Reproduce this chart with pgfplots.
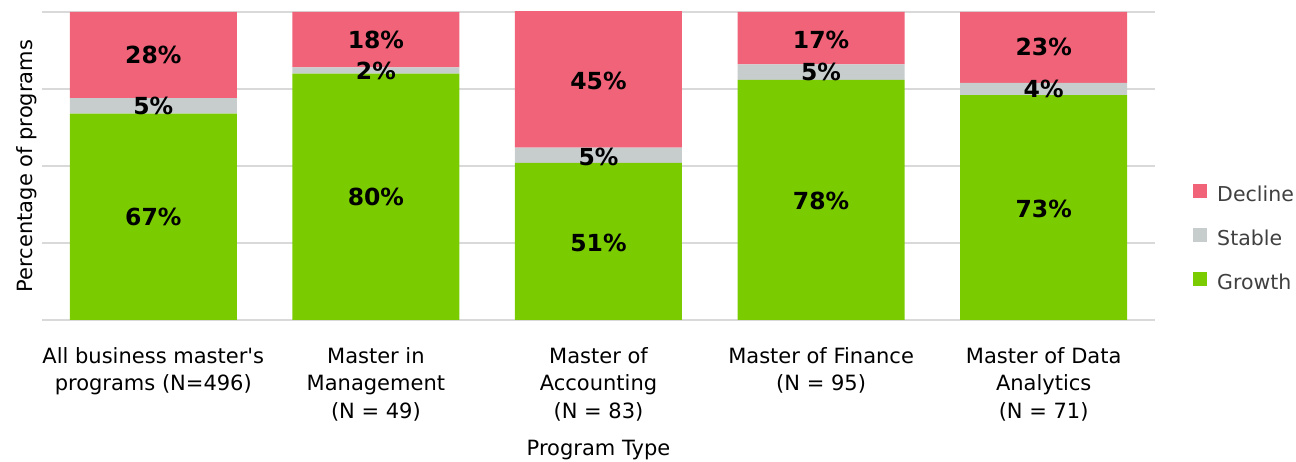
\documentclass[border=0pt]{standalone}
\usepackage{fontspec}
\setmainfont{DejaVu Sans}
\usepackage{pgfplots}
\pgfplotsset{compat=1.18}
\definecolor{decl}{HTML}{F06379}
\definecolor{stab}{HTML}{C7CDCD}
\definecolor{grow}{HTML}{7ACC00}
\definecolor{gridc}{HTML}{D9D9D9}
\definecolor{legtxt}{HTML}{404040}
\newcommand{\tickfont}{\fontsize{21}{27.5}\selectfont}
\newcommand{\legfont}{\fontsize{20.5}{24}\selectfont}
\newcommand{\valfont}{\fontsize{23.5}{26}\selectfont\bfseries}
\pgfplotsset{
  chartbase/.style={
    scale only axis, width=1113pt, height=308pt,
    at={(0,0)}, anchor=south west,
    xmin=-0.5, xmax=4.5, ymin=0, ymax=100,
  },
}
\begin{document}
\begin{tikzpicture}
\useasboundingbox (-42pt,-142pt) rectangle (1254pt,320pt);
\begin{axis}[chartbase,
  ybar stacked, bar width=167pt,
  axis line style={draw=none},
  major tick length=0pt,
  ytick={0,25,50,75,100}, yticklabels={},
  ymajorgrids, grid style={gridc, line width=1.5pt},
  xtick={0,1,2,3,4},
  xticklabels={{All business master\textquotesingle s\\programs (N=496)},
    {Master in\\Management\\(N = 49)},
    {Master of\\Accounting\\(N = 83)},
    {Master of Finance\\(N = 95)},
    {Master of Data\\Analytics\\(N = 71)}},
  xticklabel style={align=center, font=\tickfont, anchor=north, inner sep=0pt, yshift=-27pt},
  xlabel={Program Type},
  xlabel style={font=\tickfont, at={(axis description cs:0.5,-0.423)}, anchor=center},
  ylabel={Percentage of programs},
  ylabel style={font=\tickfont, at={(axis description cs:-0.0135,0.5)}, anchor=center},
  reverse legend,
  legend cell align=left,
  legend image code/.code={\fill[#1, draw=none] (0pt,-1.5pt) rectangle (13.5pt,12pt);
    \path (24pt,7pt);},
  legend style={draw=none, fill=none, at={(rel axis cs:1.0315,0.263)}, anchor=west,
    font=\legfont, text=legtxt, row sep=23pt,
    nodes={inner sep=0pt, text height=14pt, text depth=4pt}},
]
\addplot[fill=grow, draw=none] coordinates {(0,67) (1,80) (2,51) (3,78) (4,73)};
\addlegendentry{Growth}
\addplot[fill=stab, draw=none] coordinates {(0,5) (1,2) (2,5) (3,5) (4,4)};
\addlegendentry{Stable}
\addplot[fill=decl, draw=none] coordinates {(0,28) (1,18) (2,45) (3,17) (4,23)};
\addlegendentry{Decline}
\end{axis}
\begin{axis}[chartbase, hide axis, clip=false]
\addplot[draw=none, nodes near coords, point meta=explicit symbolic,
  nodes near coords align={center},
  every node near coord/.append style={font=\valfont, text=black, inner sep=0pt}]
coordinates {
  (0,33.5) [67\%] (0,69.5) [5\%] (0,86) [28\%]
  (1,40) [80\%] (1,81) [2\%] (1,91) [18\%]
  (2,25) [51\%] (2,53) [5\%] (2,77.5) [45\%]
  (3,38.5) [78\%] (3,80.5) [5\%] (3,91) [17\%]
  (4,36) [73\%] (4,75) [4\%] (4,88.5) [23\%]
};
\end{axis}
\end{tikzpicture}
\end{document}
